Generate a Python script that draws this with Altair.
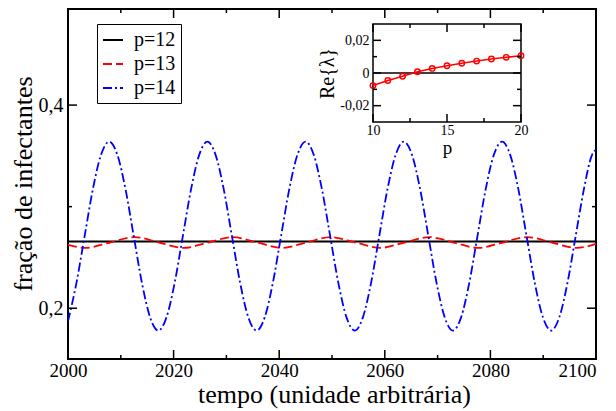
import altair as alt
import pandas as pd

# ---------------- data ----------------
series = ["p=12", "p=13", "p=14"]

t12 = [2000.0, 2100.0]
v12 = [0.2657, 0.2657]

t13 = [2000.0, 2003.3, 2007.95, 2012.6, 2017.25, 2021.9, 2026.55, 2031.2, 2035.85,
       2040.5, 2045.15, 2049.8, 2054.45, 2059.1, 2063.75, 2068.4, 2073.05, 2077.7,
       2082.35, 2087.0, 2091.65, 2096.3, 2100.0]
v13 = [0.2624, 0.2594, 0.2647, 0.2700, 0.2647, 0.2594, 0.2647, 0.2700, 0.2647,
       0.2594, 0.2647, 0.2700, 0.2647, 0.2594, 0.2647, 0.2700, 0.2647, 0.2594,
       0.2647, 0.2700, 0.2647, 0.2594, 0.2634]

t14 = [2000.0, 2001.6, 2003.15, 2004.7, 2006.25, 2007.8, 2009.35, 2010.9, 2012.45, 2014.0, 2015.55, 2017.1,
       2018.65, 2020.2, 2021.75, 2023.3, 2024.85, 2026.4, 2027.95, 2029.5, 2031.05, 2032.6, 2034.15, 2035.7,
       2037.25, 2038.8, 2040.35, 2041.9, 2043.45, 2045.0, 2046.55, 2048.1, 2049.65, 2051.2, 2052.75, 2054.3,
       2055.85, 2057.4, 2058.95, 2060.5, 2062.05, 2063.6, 2065.15, 2066.7, 2068.25, 2069.8, 2071.35, 2072.9,
       2074.45, 2076.0, 2077.55, 2079.1, 2080.65, 2082.2, 2083.75, 2085.3, 2086.85, 2088.4, 2089.95, 2091.5,
       2093.05, 2094.6, 2096.15, 2097.7, 2099.25, 2100.0]
v14 = [0.187, 0.225, 0.271, 0.317, 0.351, 0.364, 0.351, 0.317, 0.271, 0.225, 0.191, 0.178,
       0.191, 0.225, 0.271, 0.317, 0.351, 0.364, 0.351, 0.317, 0.271, 0.225, 0.191, 0.178,
       0.191, 0.225, 0.271, 0.317, 0.351, 0.364, 0.351, 0.317, 0.271, 0.225, 0.191, 0.178,
       0.191, 0.225, 0.271, 0.317, 0.351, 0.364, 0.351, 0.317, 0.271, 0.225, 0.191, 0.178,
       0.191, 0.225, 0.271, 0.317, 0.351, 0.364, 0.351, 0.317, 0.271, 0.225, 0.191, 0.178,
       0.191, 0.225, 0.271, 0.317, 0.351, 0.356]

# inset: Re{lambda} vs p
p_inset = [10, 11, 12, 13, 14, 15, 16, 17, 18, 19, 20]
re_inset = [-0.0077, -0.0046, -0.0020, 0.0008, 0.0028, 0.0044, 0.0060, 0.0073, 0.0086, 0.0096, 0.0106]

# axis domains and ticks
x_domain = [2000, 2100]
y_domain = [0.15, 0.4946]
x_major = [2000, 2020, 2040, 2060, 2080, 2100]
x_minor = [2010, 2030, 2050, 2070, 2090]
y_major = [0.2, 0.4]
y_minor = [0.3]

p_domain = [10, 20]
re_domain = [-0.03, 0.03]
p_major = [10, 15, 20]
p_minor = [12.5, 17.5]
re_major = [-0.02, 0, 0.02]
re_minor = [-0.01, 0.01]

# ---------------- layout constants ----------------
W, H = 528, 350
IX0, IX1, IY0, IY1 = 305, 453, 15, 113   # inset box inside plot (pixels)
FONT = "Liberation Serif"

rows = []
for name, ts, vs in zip(series, [t12, t13, t14], [v12, v13, v14]):
    for t, v in zip(ts, vs):
        rows.append({"serie": name, "t": t, "v": v})
df = pd.DataFrame(rows)


def xs():
    return alt.Scale(domain=x_domain, nice=False, zero=False)


def ys():
    return alt.Scale(domain=y_domain, nice=False, zero=False)


def ixs():
    return alt.Scale(domain=p_domain, range=[IX0, IX1], nice=False, zero=False)


def iys():
    return alt.Scale(domain=re_domain, range=[IY1, IY0], nice=False, zero=False)


legend = alt.Legend(
    title=None, orient="none", legendX=29, legendY=15,
    strokeColor="black", fillColor="white", padding=5,
    symbolType="stroke", symbolSize=400, symbolStrokeWidth=1.8,
    labelFont=FONT, labelFontSize=20, labelOffset=10, rowPadding=3,
    labelColor="black",
)

x_axis = alt.Axis(
    values=x_major, format="d", labelFlush=False, labelOverlap=False,
    labelAlign={"condition": {"test": f"datum.value == {x_domain[1]}", "value": "right"}, "value": "center"},
    ticks=False, domain=False, grid=False, labelFontSize=19, labelPadding=2,
    labelFont=FONT, labelColor="black",
    title="tempo (unidade arbitrária)", titleFontSize=26, titleFont=FONT,
    titleFontWeight="normal", titleColor="black",
    titleX=266, titleY=43, titleAlign="center", titleBaseline="alphabetic",
    orient="bottom",
)
y_axis = alt.Axis(
    values=y_major, labelExpr="replace(format(datum.value, '.1f'), '.', ',')",
    labelOverlap=False, ticks=False, domain=False, grid=False,
    labelFontSize=20, labelPadding=5, labelFont=FONT, labelColor="black",
    title="fração de infectantes", titleFontSize=26, titleAngle=270, titleFont=FONT,
    titleFontWeight="normal", titleColor="black",
    titleX=-37, titleY=174.5, titleAlign="center", titleBaseline="alphabetic",
    orient="left",
)

lines = alt.Chart(df).mark_line(strokeWidth=1.8, interpolate="monotone", clip=True).encode(
    x=alt.X("t:Q", scale=xs(), axis=x_axis),
    y=alt.Y("v:Q", scale=ys(), axis=y_axis),
    color=alt.Color("serie:N", scale=alt.Scale(domain=series, range=["#000000", "#ff0000", "#0000ff"]),
                    legend=legend),
    strokeDash=alt.StrokeDash("serie:N", scale=alt.Scale(domain=series, range=[[1, 0], [9, 4], [9, 3, 2, 3]]),
                              legend=legend),
)


def xrule(vals, scale, y0, y1, sw=1.5):
    return alt.Chart(pd.DataFrame({"k": vals})).mark_rule(color="black", strokeWidth=sw).encode(
        x=alt.X("k:Q", scale=scale, axis=None), y=alt.value(y0), y2=alt.value(y1))


def yrule(vals, scale, x0, x1, sw=1.5):
    return alt.Chart(pd.DataFrame({"k": vals})).mark_rule(color="black", strokeWidth=sw).encode(
        y=alt.Y("k:Q", scale=scale, axis=None), x=alt.value(x0), x2=alt.value(x1))


MAJ, MIN = 9, 4
main_ticks = [
    xrule(x_major, xs(), H, H - MAJ), xrule(x_major, xs(), 0, MAJ),
    xrule(x_minor, xs(), H, H - MIN), xrule(x_minor, xs(), 0, MIN),
    yrule(y_major, ys(), 0, MAJ), yrule(y_major, ys(), W, W - MAJ),
    yrule(y_minor, ys(), 0, MIN), yrule(y_minor, ys(), W, W - MIN),
]

# ---------------- inset ----------------
box = pd.DataFrame({"p": [p_domain[0]], "p2": [p_domain[1]], "r": [re_domain[0]], "r2": [re_domain[1]]})
ix_axis = alt.Axis(
    orient="bottom", offset=IY1 - H, values=p_major, format="d", labelFlush=False,
    labelOverlap=False, ticks=False, domain=False, grid=False,
    labelFontSize=14, labelPadding=1, labelFont=FONT, labelColor="black",
    title="p", titleFontSize=19, titleFont=FONT, titleFontWeight="normal", titleColor="black",
    titleX=(IX0 + IX1) / 2, titleY=31, titleAlign="center", titleBaseline="alphabetic",
)
iy_axis = alt.Axis(
    orient="left", offset=-IX0, values=re_major,
    labelExpr="datum.value == 0 ? '0' : replace(replace(format(datum.value, '.2f'), '.', ','), '−', '-')",
    labelOverlap=False, ticks=False, domain=False, grid=False,
    labelFontSize=14, labelPadding=4, labelFont=FONT, labelColor="black",
    title="Re{λ}", titleFontSize=20, titleAngle=270, titleFont=FONT,
    titleFontWeight="normal", titleColor="black",
    titleX=-40, titleY=(IY0 + IY1) / 2, titleAlign="center", titleBaseline="alphabetic",
)
inset_box = alt.Chart(box).mark_rect(fill="white", stroke="black", strokeWidth=1.5).encode(
    x=alt.X("p:Q", scale=ixs(), axis=ix_axis), x2="p2",
    y=alt.Y("r:Q", scale=iys(), axis=iy_axis), y2="r2",
)
zero = alt.Chart(pd.DataFrame({"p": [p_domain[0]], "p2": [p_domain[1]], "r": [0.0]})).mark_rule(
    color="black", strokeWidth=1.5).encode(
    x=alt.X("p:Q", scale=ixs(), axis=None), x2="p2", y=alt.Y("r:Q", scale=iys(), axis=None))
idf = pd.DataFrame({"p": p_inset, "r": re_inset})
iline = alt.Chart(idf).mark_line(color="#ff0000", strokeWidth=1.5).encode(
    x=alt.X("p:Q", scale=ixs(), axis=None), y=alt.Y("r:Q", scale=iys(), axis=None))
ipts = alt.Chart(idf).mark_point(shape="circle", filled=False, color="#ff0000", size=30,
                                 strokeWidth=1.4, opacity=1).encode(
    x=alt.X("p:Q", scale=ixs(), axis=None), y=alt.Y("r:Q", scale=iys(), axis=None))

IMAJ, IMIN = 8, 4
inset_ticks = [
    xrule(p_major, ixs(), IY1, IY1 - IMAJ), xrule(p_major, ixs(), IY0, IY0 + IMAJ),
    xrule(p_minor, ixs(), IY1, IY1 - IMIN), xrule(p_minor, ixs(), IY0, IY0 + IMIN),
    yrule(re_major, iys(), IX0, IX0 + IMAJ), yrule(re_major, iys(), IX1, IX1 - IMAJ),
    yrule(re_minor, iys(), IX0, IX0 + IMIN), yrule(re_minor, iys(), IX1, IX1 - IMIN),
]

chart = alt.layer(
    lines, *main_ticks, inset_box, zero, iline, ipts, *inset_ticks
).resolve_scale(x="independent", y="independent").properties(
    width=W, height=H,
    autosize=alt.AutoSizeParams(type="none"),
    padding={"left": 60, "top": 1, "right": 12, "bottom": 50},
    background="white",
).configure_view(stroke="black", strokeWidth=2)

chart.save("out.html", embed_options={"renderer": "svg", "actions": False})
